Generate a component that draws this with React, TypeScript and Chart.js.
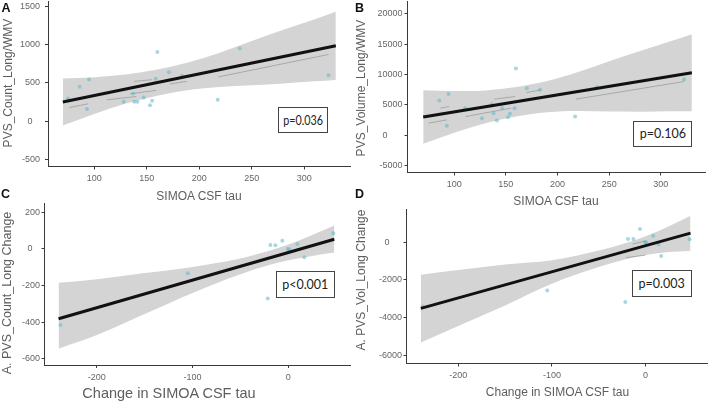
import React, { useEffect, useRef } from 'react';
import { Chart, registerables } from 'chart.js';

Chart.register(...registerables);

// ---------- Panel A: PVS count vs SIMOA CSF tau ----------
const aTau = [75, 86, 93, 95, 128, 137, 138, 141, 147, 153, 155, 158.5, 160, 171, 183.5, 217.5, 238.5, 323];
const aCount = [297, 451, 162, 545, 254, 363, 254, 254, 311, 210, 267, 556, 903, 640, 596, 280, 951, 600];
const aFitX = [70, 330];
const aFitY = [252, 985];
const abBandX = [70, 100, 130, 160, 190, 220, 250, 280, 310, 330];
const aUpper = [560, 576, 611, 675, 770, 899, 1049, 1194, 1333, 1430];
const aLower = [-56, 96, 231, 335, 410, 449, 469, 494, 523, 540];
const aThinX = [[76, 94], [112, 140], [134, 159], [138, 155], [172, 188], [218, 323]];
const aThinY = [[179, 228], [280, 324], [359, 403], [521, 543], [487, 521], [579, 872]];

// ---------- Panel B: PVS volume vs SIMOA CSF tau ----------
const bTau = [85.5, 92.9, 94.5, 110.6, 126.8, 136.5, 138, 141.3, 146.4, 152, 153.9, 158.4, 159.7, 170.3, 183, 217, 238, 322.5];
const bVol = [5700, 1530, 6800, 4450, 2800, 5100, 3620, 2400, 4450, 2970, 3510, 4450, 10980, 7740, 7470, 3070, 7900, 9230];
const bFitX = [70, 330];
const bFitY = [2985, 10280];
const bUpper = [7385, 7257, 7379, 7940, 8922, 10404, 12176, 13877, 15509, 16640];
const bLower = [-1415, 397, 1959, 3080, 3782, 3984, 3896, 3877, 3929, 3920];
const bThinX = [[75, 93], [86.5, 95], [111, 155], [138.7, 159], [170, 184.5], [217.8, 322.5]];
const bThinY = [[1978, 2522], [4450, 4715], [3066, 4450], [5934, 6363], [7022, 7468], [5934, 8836]];

// ---------- Panel C: change in PVS count vs change in tau ----------
const cTau = [-238, -105, -21.5, -18.8, -13.6, -6.3, -0.6, 1, 9.4, 16.7, 47];
const cCount = [-415, -133, -271, 22, 20, 45, 0, -2, 27, -45, 86];
const cFitX = [-240, 48];
const cFitY = [-381, 53];
const cdBandX = [-240, -200, -150, -100, -50, -20, 0, 25, 48];
const cUpper = [-185, -165, -132, -98, -52, -10, 24, 76, 128];
const cLower = [-545, -470, -355, -240, -138, -88, -62, -38, -20];
const cThinX: number[][] = [];
const cThinY: number[][] = [];

// ---------- Panel D: change in PVS volume vs change in tau ----------
const dTau = [-238, -105, -21.6, -18.7, -13, -6, -0.5, 0.5, 8.2, 13.8, 16.7, 47];
const dVol = [-3400, -2550, -3158, 158, 158, 684, 0, -30, 333, -121, -737, 142];
const dFitX = [-240, 48];
const dFitY = [-3496, 467];
const dUpper = [-1720, -1480, -1180, -960, -450, -40, 300, 830, 1387];
const dLower = [-5300, -4420, -3340, -2200, -1320, -890, -680, -530, -453];
const dThinX = [[-14, 0], [-21, 0]];
const dThinY = [[-105, 53], [-826, -686]];

// ---------- Tick labels ----------
const abXTicks = [100, 150, 200, 250, 300];
const cdXTicks = [-200, -100, 0];
const aYTicks = [-500, 0, 500, 1000, 1500];
const bYTicks = [-5000, 0, 5000, 10000, 15000, 20000];
const cYTicks = [-600, -400, -200, 0, 200];
const dYTicks = [-6000, -4000, -2000, 0];

// ---------- Text ----------
const pLabels = ['p=0.036', 'p=0.106', 'p<0.001', 'p=0.003'];
const panelLetters = ['A', 'B', 'C', 'D'];
const xTitles = ['SIMOA CSF tau', 'SIMOA CSF tau', 'Change in SIMOA CSF tau', 'Change in SIMOA CSF tau'];
const yTitles = ['PVS_Count_Long/WMV', 'PVS_Volume_Long/WMV', 'A. PVS_Count_Long Change', 'A. PVS_Vol_Long Change'];

const AXIS = '#3a3a3a';
const TICK = '#666666';
const TITLE = '#5e5e5e';
const BAND = 'rgb(212,212,212)';
const POINT = 'rgba(95,182,198,0.55)';
const THIN = '#959595';
const FONT = '"Liberation Sans", Arial, sans-serif';

const pts = (xs: number[], ys: number[]) => xs.map((x, i) => ({ x, y: ys[i] }));

type PanelCfg = {
  L: number; T: number; W: number; H: number;
  l: number; r: number; t: number; b: number;
  xmin: number; xmax: number; ymin: number; ymax: number;
  xTicks: number[]; yTicks: number[]; zeroPad: number; yPad: number;
  px: number[]; py: number[]; fitX: number[]; fitY: number[];
  bandX: number[]; upper: number[]; lower: number[];
  thinX: number[][]; thinY: number[][];
};

const panels: PanelCfg[] = [
  {
    L: 0, T: -10, W: 354, H: 200, l: 48, r: 350, t: 1, b: 166.5,
    xmin: 55.9, xmax: 343.5, ymin: -590, ymax: 1570,
    xTicks: abXTicks, yTicks: aYTicks, zeroPad: 3, yPad: 5,
    px: aTau, py: aCount, fitX: aFitX, fitY: aFitY,
    bandX: abBandX, upper: aUpper, lower: aLower, thinX: aThinX, thinY: aThinY,
  },
  {
    L: 354, T: -10, W: 354, H: 200, l: 407.5, r: 705.5, t: 1.5, b: 172.5,
    xmin: 54.8, xmax: 343.2, ymin: -6154, ymax: 22027,
    xTicks: abXTicks, yTicks: bYTicks, zeroPad: 6, yPad: 2,
    px: bTau, py: bVol, fitX: bFitX, fitY: bFitY,
    bandX: abBandX, upper: bUpper, lower: bLower, thinX: bThinX, thinY: bThinY,
  },
  {
    L: 0, T: 195, W: 354, H: 206, l: 44.5, r: 350, t: 203, b: 365,
    xmin: -254.7, xmax: 64.4, ymin: -634, ymax: 251,
    xTicks: cdXTicks, yTicks: cYTicks, zeroPad: 3, yPad: 1.5,
    px: cTau, py: cCount, fitX: cFitX, fitY: cFitY,
    bandX: cdBandX, upper: cUpper, lower: cLower, thinX: cThinX, thinY: cThinY,
  },
  {
    L: 354, T: 195, W: 354, H: 206, l: 406.5, r: 707, t: 209, b: 363.5,
    xmin: -255.3, xmax: 65.6, ymin: -6401, ymax: 1741,
    xTicks: cdXTicks, yTicks: dYTicks, zeroPad: 5, yPad: 1.5,
    px: dTau, py: dVol, fitX: dFitX, fitY: dFitY,
    bandX: cdBandX, upper: dUpper, lower: dLower, thinX: dThinX, thinY: dThinY,
  },
];

function Panel({ cfg }: { cfg: PanelCfg }) {
  const ref = useRef<HTMLCanvasElement>(null);
  useEffect(() => {
    const c = ref.current;
    if (!c) return;
    const yW = cfg.l - cfg.L;
    const xH = cfg.T + cfg.H - cfg.b;
    const padTop = cfg.t - cfg.T;
    const padRight = cfg.L + cfg.W - cfg.r;
    const zeroPad = (p: any) => { p.paddingLeft = 0; p.paddingRight = 0; p.paddingTop = 0; p.paddingBottom = 0; };
    const thinSets = cfg.thinX.map((xs, i) => ({
      data: pts(xs, cfg.thinY[i]),
      borderColor: THIN, borderWidth: 0.7, pointRadius: 0, fill: false, order: 5,
    }));
    const chart = new Chart(c, {
      type: 'line',
      data: {
        datasets: [
          {
            data: pts(cfg.bandX, cfg.upper), borderColor: 'rgba(0,0,0,0)', borderWidth: 0,
            pointRadius: 0, fill: '+1', backgroundColor: BAND, cubicInterpolationMode: 'monotone', order: 10,
          },
          {
            data: pts(cfg.bandX, cfg.lower), borderColor: 'rgba(0,0,0,0)', borderWidth: 0,
            pointRadius: 0, fill: false, cubicInterpolationMode: 'monotone', order: 10,
          },
          ...thinSets,
          {
            data: pts(cfg.px, cfg.py), showLine: false, pointRadius: 2,
            pointBackgroundColor: POINT, pointBorderWidth: 0, pointBorderColor: 'rgba(0,0,0,0)', order: 3,
          },
          {
            data: pts(cfg.fitX, cfg.fitY), borderColor: '#111111', borderWidth: 3,
            pointRadius: 0, fill: false, order: 1,
          },
        ] as any,
      },
      options: {
        animation: false,
        responsive: false,
        devicePixelRatio: 1,
        events: [],
        layout: { padding: { left: 0, right: padRight, top: padTop, bottom: 0 }, autoPadding: false } as any,
        plugins: { legend: { display: false }, tooltip: { enabled: false }, title: { display: false } },
        scales: {
          x: {
            type: 'linear', min: cfg.xmin, max: cfg.xmax,
            afterBuildTicks: (s: any) => { s.ticks = cfg.xTicks.map((v) => ({ value: v })); },
            afterFit: (s: any) => { s.height = xH; zeroPad(s); },
            grid: { display: true, drawOnChartArea: false, drawTicks: true, tickLength: 3, color: AXIS, lineWidth: 1 },
            border: { display: true, color: AXIS, width: 1 },
            ticks: {
              autoSkip: false, maxRotation: 0, minRotation: 0, padding: 4, color: TICK,
              font: { family: FONT, size: 9 },
              callback: (v: any) => String(v),
            },
          },
          y: {
            type: 'linear', min: cfg.ymin, max: cfg.ymax,
            afterBuildTicks: (s: any) => { s.ticks = cfg.yTicks.map((v) => ({ value: v })); },
            afterFit: (s: any) => { s.width = yW; zeroPad(s); },
            grid: { display: true, drawOnChartArea: false, drawTicks: true, tickLength: 3, color: AXIS, lineWidth: 1 },
            border: { display: true, color: AXIS, width: 1 },
            ticks: {
              autoSkip: false, padding: cfg.yPad, color: TICK,
              font: { family: FONT, size: 9 },
              callback: (v: any) => (Number(v) === 0 ? '0' + ' '.repeat(cfg.zeroPad) : String(v)),
            },
          },
        },
      } as any,
    });
    return () => chart.destroy();
  }, [cfg]);
  return (
    <canvas
      ref={ref}
      width={cfg.W}
      height={cfg.H}
      style={{ position: 'absolute', left: cfg.L, top: cfg.T, width: cfg.W, height: cfg.H }}
    />
  );
}

const textBase: React.CSSProperties = {
  position: 'absolute', whiteSpace: 'nowrap', fontFamily: FONT, lineHeight: 1,
  transform: 'translate(-50%, -50%)',
};

const xTitlePos = [
  { x: 199, y: 196, s: 12 },
  { x: 556, y: 200.5, s: 12 },
  { x: 169, y: 392.5, s: 14.5 },
  { x: 557.5, y: 392.3, s: 12 },
];
const yTitlePos = [
  { x: 7.5, y: 83, s: 12 },
  { x: 361.3, y: 88, s: 12 },
  { x: 6.5, y: 293, s: 12.5 },
  { x: 361, y: 280, s: 12 },
];
const letterPos = [
  { x: 6, y: 8 },
  { x: 359.5, y: 8 },
  { x: 5.5, y: 193.5 },
  { x: 359.5, y: 193.5 },
];
const boxPos = [
  { l: 278.3, t: 107.3, w: 49.4, h: 26, sx: 0.86 },
  { l: 633.3, t: 120.7, w: 59, h: 26, sx: 1 },
  { l: 275.5, t: 270.7, w: 59.5, h: 27, sx: 1 },
  { l: 631.7, t: 269.5, w: 60, h: 27.4, sx: 1 },
];

export default function App() {
  return (
    <div
      style={{
        position: 'fixed', left: 0, top: 0, width: 708, height: 401,
        overflow: 'hidden', background: '#ffffff',
      }}
    >
      {panels.map((p, i) => (
        <Panel key={'p' + i} cfg={p} />
      ))}
      {xTitles.map((t, i) => (
        <div key={'xt' + i} style={{ ...textBase, left: xTitlePos[i].x, top: xTitlePos[i].y, fontSize: xTitlePos[i].s, color: TITLE }}>
          {t}
        </div>
      ))}
      {yTitles.map((t, i) => (
        <div
          key={'yt' + i}
          style={{
            ...textBase, left: yTitlePos[i].x, top: yTitlePos[i].y, fontSize: yTitlePos[i].s, color: TITLE,
            transform: 'translate(-50%, -50%) rotate(-90deg)',
          }}
        >
          {t}
        </div>
      ))}
      {panelLetters.map((t, i) => (
        <div key={'l' + i} style={{ ...textBase, left: letterPos[i].x, top: letterPos[i].y, fontSize: 12.5, fontWeight: 'bold', color: '#111' }}>
          {t}
        </div>
      ))}
      {pLabels.map((t, i) => (
        <div
          key={'b' + i}
          style={{
            position: 'absolute', left: boxPos[i].l, top: boxPos[i].t, width: boxPos[i].w, height: boxPos[i].h,
            boxSizing: 'border-box', border: '1px solid #444', background: '#fff',
            display: 'flex', alignItems: 'center', justifyContent: 'center',
          }}
        >
          <span style={{ fontFamily: 'Lato, "Open Sans", sans-serif', fontSize: 12.5, color: '#222', whiteSpace: 'nowrap', transform: `scaleX(${boxPos[i].sx})` }}>
            {t}
          </span>
        </div>
      ))}
    </div>
  );
}
